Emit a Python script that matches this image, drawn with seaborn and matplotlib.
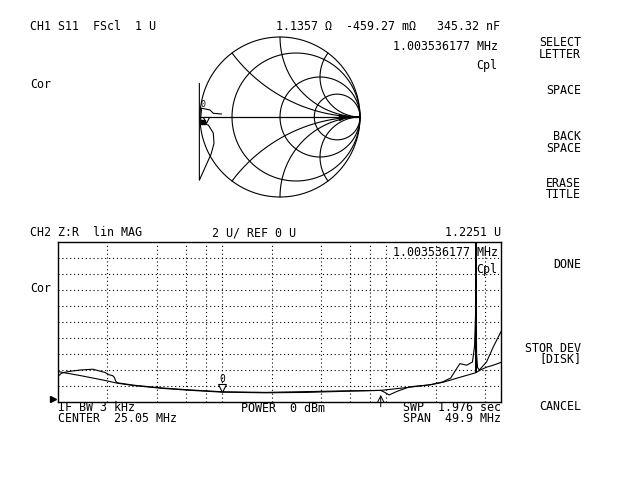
import numpy as np
import pandas as pd
import seaborn as sns
import matplotlib
matplotlib.use("Agg")
import matplotlib.pyplot as plt

# CH2 Z:R lin MAG, frequency in MHz (log sweep 0.1 .. 50 MHz), values in U
freq_smooth = [0.1, 0.137, 0.193, 0.23, 0.29, 0.434, 0.65, 1.0035, 1.84, 3.27, 5.83,
               9.25, 13.9, 18.5, 22.0, 24.7, 27.7, 33.0, 35.0, 35.2, 35.4, 37.4, 40.8, 44.9, 50.0]
mag_smooth = [3.8, 3.3, 2.7, 2.35, 2.05, 1.7, 1.45, 1.23, 1.15, 1.2, 1.35,
              1.45, 1.85, 2.15, 2.45, 2.75, 3.05, 3.5, 3.65, 21.0, 3.7, 4.0, 4.35, 4.6, 4.95]

freq_noisy = [0.1, 0.105, 0.115, 0.137, 0.163, 0.193, 0.205, 0.215, 0.22, 0.225, 0.23,
              0.29, 0.434, 0.65, 1.0035, 1.84, 3.27, 5.83, 9.25, 9.8, 10.4, 11.7, 13.9,
              18.5, 22.0, 24.7, 26.5, 28.1, 30.9, 33.5, 34.5, 35.0, 35.2, 35.5, 36.0,
              36.9, 40.8, 44.9, 50.0]
mag_noisy = [3.2, 3.6, 3.8, 4.0, 4.1, 3.7, 3.4, 3.3, 3.1, 2.6, 2.4,
             2.1, 1.75, 1.5, 1.28, 1.2, 1.3, 1.4, 1.45, 1.2, 0.88, 1.35, 1.9,
             2.15, 2.5, 3.0, 4.0, 4.8, 4.6, 5.0, 7.0, 11.0, 16.1, 6.0, 4.3,
             4.0, 5.0, 6.9, 8.8]

x_grid = [0.2, 0.4, 0.6, 0.8, 1, 2, 4, 6, 8, 10, 20, 40]
y_grid = [2, 4, 6, 8, 10, 12, 14, 16, 18]

# CH1 S11 Smith chart trace (reflection coefficient, real / imag)
gamma_re = [-1.008, -1.008, -1.008, -0.86, -0.825, -0.834, -0.896, -0.99, -0.99, -0.98,
            -0.875, -0.834, -0.73]
gamma_im = [0.42, 0.0, -0.79, -0.46, -0.33, -0.2, -0.1, -0.08, 0.0, 0.11,
            0.0875, 0.046, 0.0375]
smith_r = [0.25, 1, 2.5]
smith_x = [0.5, 1, 2]

marker_freq = 1.0035
marker_val = 1.2251
arrow_freq = 9.25

sns.set_theme(style="white")
plt.rcParams['font.family'] = ['DejaVu Sans Mono']
fs = 8.4
ink = 'black'

fig = plt.figure(figsize=(6.4, 4.8), dpi=100, facecolor='white')

# ---- Smith chart ----
axs = fig.add_axes([(280 - 88) / 640, 1 - (117 + 88) / 480, 176 / 640, 176 / 480])
axs.set_xlim(-1.1, 1.1)
axs.set_ylim(-1.1, 1.1)
axs.axis('off')
t = np.linspace(0, 2 * np.pi, 400)
axs.plot(np.cos(t), np.sin(t), color=ink, lw=0.8)
for r in smith_r:
    c, rad = r / (1 + r), 1 / (1 + r)
    axs.plot(c + rad * np.cos(t), rad * np.sin(t), color=ink, lw=0.8)
rr = np.concatenate([[0], np.logspace(-3, 4, 600)])
for xv in smith_x:
    for s in (1, -1):
        z = rr + 1j * s * xv
        g = (z - 1) / (z + 1)
        axs.plot(g.real, g.imag, color=ink, lw=0.8)
axs.plot([-1, 1], [0, 0], color=ink, lw=0.9)
axs.plot(gamma_re, gamma_im, color=ink, lw=0.8)
axs.plot(0.77, 0, marker='>', ms=5, color=ink)
axs.plot(-0.93, -0.04, marker='v', ms=5, mfc='white', mec=ink, mew=0.8)
axs.plot(-0.96, -0.06, marker='s', ms=3, color=ink)
axs.text(-0.96, 0.16, '0', fontsize=6, ha='center', va='center', color=ink)

# ---- CH2 rectangular plot ----
axb = fig.add_axes([58 / 640, 1 - 402 / 480, 443 / 640, 160 / 480])
df_s = pd.DataFrame({'freq': freq_smooth, 'mag': mag_smooth})
df_n = pd.DataFrame({'freq': freq_noisy, 'mag': mag_noisy})
sns.lineplot(data=df_s, x='freq', y='mag', ax=axb, color=ink, lw=0.8, sort=False, estimator=None)
sns.lineplot(data=df_n, x='freq', y='mag', ax=axb, color=ink, lw=0.8, sort=False, estimator=None)
axb.set_xscale('log')
axb.set_xlim(0.1, 50)
axb.set_ylim(0, 20)
axb.set_xticks(x_grid)
axb.set_xticks([], minor=True)
axb.set_yticks(y_grid)
axb.grid(True, color=ink, linestyle=(0, (1, 2.5)), lw=0.8)
axb.tick_params(length=0, labelbottom=False, labelleft=False)
axb.set_xlabel('')
axb.set_ylabel('')
for sp in axb.spines.values():
    sp.set_color(ink)
    sp.set_linewidth(1.0)
axb.plot(marker_freq, marker_val + 0.5, marker='v', ms=6, mfc='white', mec=ink, mew=0.8)
axb.text(marker_freq, marker_val + 1.7, '0', fontsize=7, ha='center', va='center', color=ink)
axb.annotate('', xy=(arrow_freq, 0.9), xytext=(arrow_freq, -0.6),
             arrowprops=dict(arrowstyle='->', lw=0.7, color=ink, shrinkA=0, shrinkB=0),
             annotation_clip=False)

# ---- annotation overlay in screen pixels ----
ov = fig.add_axes([0, 0, 1, 1])
ov.set_xlim(0, 640)
ov.set_ylim(480, 0)
ov.axis('off')
ov.patch.set_alpha(0)


def put(x, y, s, ha='left'):
    ov.text(x, y, s, fontsize=fs, ha=ha, va='center', color=ink,
            multialignment=ha, linespacing=0.8)


put(30, 26.5, 'CH1 S11  FScl  1 U')
put(500, 26.5, '1.1357 Ω  -459.27 mΩ   345.32 nF', 'right')
put(498, 47, '1.003536177 MHz', 'right')
put(497, 65, 'Cpl', 'right')
put(30, 84, 'Cor')

put(30, 232.5, 'CH2 Z:R  lin MAG')
put(212, 232.5, '2 U/ REF 0 U')
put(501, 232.5, '1.2251 U', 'right')
put(498, 252.5, '1.003536177 MHz', 'right')
put(497, 269.5, 'Cpl', 'right')
put(30, 288, 'Cor')
put(58, 413, 'IF BW 3 kHz\nCENTER  25.05 MHz')
put(241, 408, 'POWER  0 dBm')
put(501, 413, 'SWP  1.976 sec\nSPAN  49.9 MHz', 'right')
ov.plot(53, 399, marker='>', ms=5, color=ink)

softkeys = [(48.5, 'SELECT\nLETTER'), (91, 'SPACE'), (142.5, 'BACK\nSPACE'),
            (189, 'ERASE\nTITLE'), (265, 'DONE'), (353.5, 'STOR DEV\n[DISK]'),
            (406, 'CANCEL')]
for y, s in softkeys:
    put(581, y, s, 'right')

fig.savefig('out.png', dpi=100, facecolor='white')
